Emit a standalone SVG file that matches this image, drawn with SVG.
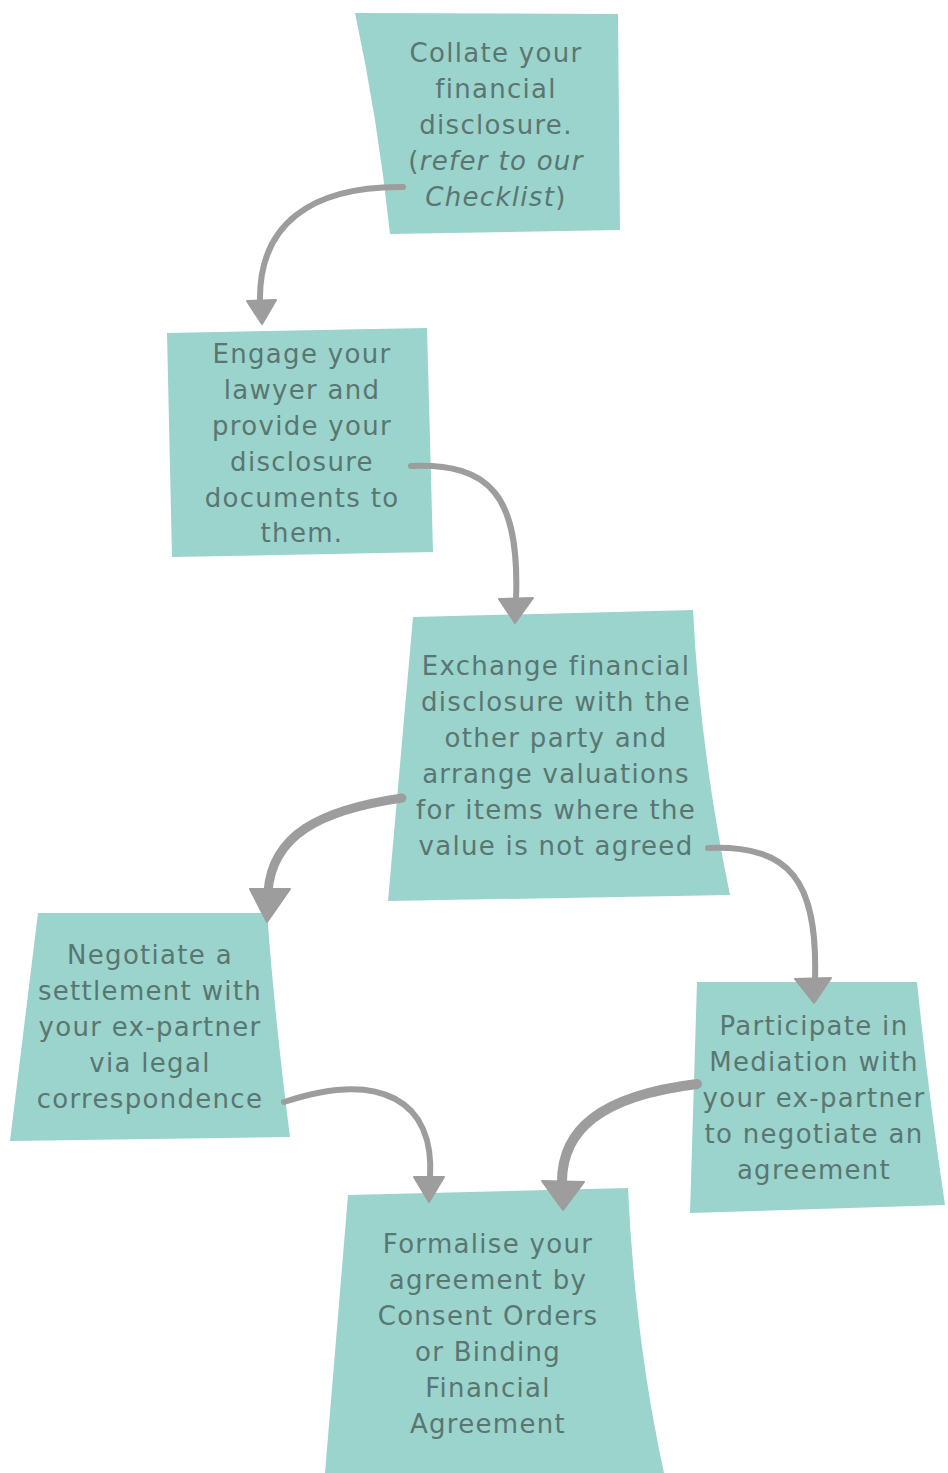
<svg xmlns="http://www.w3.org/2000/svg" width="948" height="1473" viewBox="0 0 948 1473">
<style>
.note{fill:#9bd4cd;}
.t{font-family:"DejaVu Sans","Liberation Sans",sans-serif;font-size:26px;fill:#5a7671;text-anchor:middle;letter-spacing:1.3px;}
.c{fill:none;stroke:#9d9d9d;stroke-linecap:round;}
.h{fill:#9d9d9d;stroke:#9d9d9d;stroke-width:2;stroke-linejoin:round;}
</style>
<rect width="948" height="1473" fill="#ffffff"/>
<g id="node1">
<path class="note" d="M355 13 L618 14 L620 230 L390 234 Q378 120 355 13 Z"/>
<text class="t" x="496" y="62">Collate your</text>
<text class="t" x="496" y="98">financial</text>
<text class="t" x="496" y="134">disclosure.</text>
<text class="t" x="496" y="170">(<tspan font-style="italic">refer to our</tspan></text>
<text class="t" x="496" y="206"><tspan font-style="italic">Checklist</tspan>)</text>
</g>
<g id="node2">
<path class="note" d="M167 333 L427 328 L433 552 L172 557 Z"/>
<text class="t" x="302" y="363">Engage your</text>
<text class="t" x="302" y="399">lawyer and</text>
<text class="t" x="302" y="435">provide your</text>
<text class="t" x="302" y="471">disclosure</text>
<text class="t" x="302" y="507">documents to</text>
<text class="t" x="302" y="542">them.</text>
</g>
<g id="node3">
<path class="note" d="M413 617 L693 610 Q700 750 730 895 L388 901 Z"/>
<text class="t" x="556" y="675">Exchange financial</text>
<text class="t" x="556" y="711">disclosure with the</text>
<text class="t" x="556" y="747">other party and</text>
<text class="t" x="556" y="783">arrange valuations</text>
<text class="t" x="556" y="819">for items where the</text>
<text class="t" x="556" y="855">value is not agreed</text>
</g>
<g id="node4">
<path class="note" d="M38 913 L267 913 Q275 1020 290 1137 L10 1141 Z"/>
<text class="t" x="150" y="964">Negotiate a</text>
<text class="t" x="150" y="1000">settlement with</text>
<text class="t" x="150" y="1036">your ex-partner</text>
<text class="t" x="150" y="1072">via legal</text>
<text class="t" x="150" y="1108">correspondence</text>
</g>
<g id="node5">
<path class="note" d="M697 982 L917 982 Q928 1090 945 1205 L690 1213 Z"/>
<text class="t" x="814" y="1035">Participate in</text>
<text class="t" x="814" y="1071">Mediation with</text>
<text class="t" x="814" y="1107">your ex-partner</text>
<text class="t" x="814" y="1143">to negotiate an</text>
<text class="t" x="814" y="1179">agreement</text>
</g>
<g id="node6">
<path class="note" d="M348 1195 L628 1188 Q635 1340 664 1473 L325 1473 Z"/>
<text class="t" x="488" y="1253">Formalise your</text>
<text class="t" x="488" y="1289">agreement by</text>
<text class="t" x="488" y="1325">Consent Orders</text>
<text class="t" x="488" y="1361">or Binding</text>
<text class="t" x="488" y="1397">Financial</text>
<text class="t" x="488" y="1433">Agreement</text>
</g>
<g id="connectors">
<path class="c" stroke-width="6" d="M403 187 C310 186 258 225 260 303"/>
<polygon class="h" points="247,301 276,300 262,324"/>
<path class="c" stroke-width="6" d="M411 466 C490 463 520 495 516 600"/>
<polygon class="h" points="499,599 533,598 515,623"/>
<path class="c" stroke-width="9" d="M402 798 C320 810 272 835 268 892"/>
<polygon class="h" points="250,889 290,889 267,922"/>
<path class="c" stroke-width="6" d="M708 848 C790 845 818 880 815 980"/>
<polygon class="h" points="795,979 831,978 814,1003"/>
<path class="c" stroke-width="6" d="M284 1102 C380 1070 435 1100 430 1178"/>
<polygon class="h" points="414,1177 444,1177 429,1202"/>
<path class="c" stroke-width="10" d="M697 1084 C600 1096 562 1130 562 1182"/>
<polygon class="h" points="542,1181 584,1182 563,1210"/>
</g>
</svg>
